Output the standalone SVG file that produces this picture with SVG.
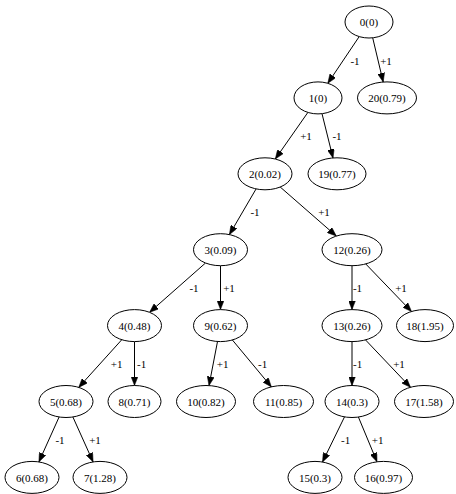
<svg xmlns="http://www.w3.org/2000/svg" width="456" height="494" viewBox="0 0 456 494" font-family="'Liberation Serif', 'Times New Roman', Times, serif">
<style>
.n ellipse{fill:#fff;stroke:#000;stroke-width:1}
text{font-family:'Liberation Serif','Times New Roman',Times,serif;font-size:11px;fill:#000;text-anchor:middle}
.e line{stroke:#000;stroke-width:1;marker-end:url(#ah)}
</style>
<defs>
<marker id="ah" markerUnits="userSpaceOnUse" markerWidth="9" markerHeight="7" refX="9" refY="3.5" orient="auto" viewBox="0 0 9 7">
<path d="M0,0 L9,3.5 L0,7 z" fill="#000" stroke="#000" stroke-width="0.5"/>
</marker>
</defs>
<rect width="456" height="494" fill="#fff"/>
<g id="edges" class="e">
<line x1="359.2" y1="36.6" x2="327.8" y2="83.3"/>
<line x1="372.7" y1="37.8" x2="383.2" y2="82.0"/>
<line x1="307.9" y1="112.4" x2="275.3" y2="159.0"/>
<line x1="322.0" y1="113.7" x2="333.0" y2="158.0"/>
<line x1="256.1" y1="188.9" x2="229.4" y2="234.6"/>
<line x1="280.2" y1="187.0" x2="336.3" y2="236.0"/>
<line x1="205.5" y1="263.0" x2="149.6" y2="312.3"/>
<line x1="220.5" y1="265.7" x2="220.5" y2="309.6"/>
<line x1="352" y1="265.7" x2="352" y2="309.6"/>
<line x1="365.7" y1="263.9" x2="411.5" y2="311.5"/>
<line x1="121.8" y1="339.7" x2="78.7" y2="387.4"/>
<line x1="134.5" y1="341.6" x2="134.5" y2="385.5"/>
<line x1="217.5" y1="341.5" x2="209.0" y2="385.6"/>
<line x1="232.4" y1="340.0" x2="271.4" y2="386.9"/>
<line x1="352" y1="341.6" x2="352" y2="385.5"/>
<line x1="365.5" y1="339.9" x2="410.5" y2="387.3"/>
<line x1="59.1" y1="417.0" x2="38.9" y2="461.9"/>
<line x1="72.9" y1="417.0" x2="93.1" y2="461.9"/>
<line x1="344.5" y1="416.9" x2="322.5" y2="462.0"/>
<line x1="358.4" y1="417.0" x2="377.0" y2="461.8"/>
</g>
<g id="edge-labels">
<text x="355" y="64.8">-1</text>
<text x="386" y="64.8">+1</text>
<text x="306" y="140.1">+1</text>
<text x="337" y="140.1">-1</text>
<text x="255" y="215.8">-1</text>
<text x="324" y="215.8">+1</text>
<text x="194" y="292.4">-1</text>
<text x="229" y="292.4">+1</text>
<text x="357.5" y="292.4">-1</text>
<text x="401" y="292.4">+1</text>
<text x="116.7" y="368.1">+1</text>
<text x="141.7" y="368.1">-1</text>
<text x="222.7" y="368.1">+1</text>
<text x="262.7" y="368.1">-1</text>
<text x="357.7" y="368.1">-1</text>
<text x="399" y="368.1">+1</text>
<text x="60" y="444.1">-1</text>
<text x="95" y="444.1">+1</text>
<text x="345.7" y="444.1">-1</text>
<text x="377.7" y="444.1">+1</text>
</g>
<g id="n0" class="n"><ellipse cx="369" cy="22" rx="24" ry="16"/><text x="369" y="26.3">0(0)</text></g>
<g id="n1" class="n"><ellipse cx="318" cy="97.9" rx="24" ry="16"/><text x="318" y="102.2">1(0)</text></g>
<g id="n20" class="n"><ellipse cx="387" cy="97.9" rx="29.5" ry="16"/><text x="387" y="102.2">20(0.79)</text></g>
<g id="n2" class="n"><ellipse cx="265" cy="173.8" rx="27" ry="16"/><text x="265" y="178.1">2(0.02)</text></g>
<g id="n19" class="n"><ellipse cx="337" cy="173.8" rx="29" ry="16"/><text x="337" y="178.1">19(0.77)</text></g>
<g id="n3" class="n"><ellipse cx="220.5" cy="249.7" rx="27" ry="16"/><text x="220.5" y="254">3(0.09)</text></g>
<g id="n12" class="n"><ellipse cx="352" cy="249.7" rx="30" ry="16"/><text x="352" y="254">12(0.26)</text></g>
<g id="n4" class="n"><ellipse cx="134.5" cy="325.6" rx="27" ry="16"/><text x="134.5" y="329.9">4(0.48)</text></g>
<g id="n9" class="n"><ellipse cx="220.5" cy="325.6" rx="27" ry="16"/><text x="220.5" y="329.9">9(0.62)</text></g>
<g id="n13" class="n"><ellipse cx="352" cy="325.6" rx="30" ry="16"/><text x="352" y="329.9">13(0.26)</text></g>
<g id="n18" class="n"><ellipse cx="425" cy="325.6" rx="28.5" ry="16"/><text x="425" y="329.9">18(1.95)</text></g>
<g id="n5" class="n"><ellipse cx="66" cy="401.5" rx="27" ry="16"/><text x="66" y="405.8">5(0.68)</text></g>
<g id="n8" class="n"><ellipse cx="134.5" cy="401.5" rx="26.5" ry="16"/><text x="134.5" y="405.8">8(0.71)</text></g>
<g id="n10" class="n"><ellipse cx="206" cy="401.5" rx="29.5" ry="16"/><text x="206" y="405.8">10(0.82)</text></g>
<g id="n11" class="n"><ellipse cx="283.5" cy="401.5" rx="30" ry="16"/><text x="283.5" y="405.8">11(0.85)</text></g>
<g id="n14" class="n"><ellipse cx="352" cy="401.5" rx="27" ry="16"/><text x="352" y="405.8">14(0.3)</text></g>
<g id="n17" class="n"><ellipse cx="424" cy="401.5" rx="29.5" ry="16"/><text x="424" y="405.8">17(1.58)</text></g>
<g id="n6" class="n"><ellipse cx="32" cy="477.4" rx="27" ry="16"/><text x="32" y="481.7">6(0.68)</text></g>
<g id="n7" class="n"><ellipse cx="100" cy="477.4" rx="27" ry="16"/><text x="100" y="481.7">7(1.28)</text></g>
<g id="n15" class="n"><ellipse cx="315" cy="477.4" rx="27" ry="16"/><text x="315" y="481.7">15(0.3)</text></g>
<g id="n16" class="n"><ellipse cx="383.5" cy="477.4" rx="29" ry="16"/><text x="383.5" y="481.7">16(0.97)</text></g>
</svg>
